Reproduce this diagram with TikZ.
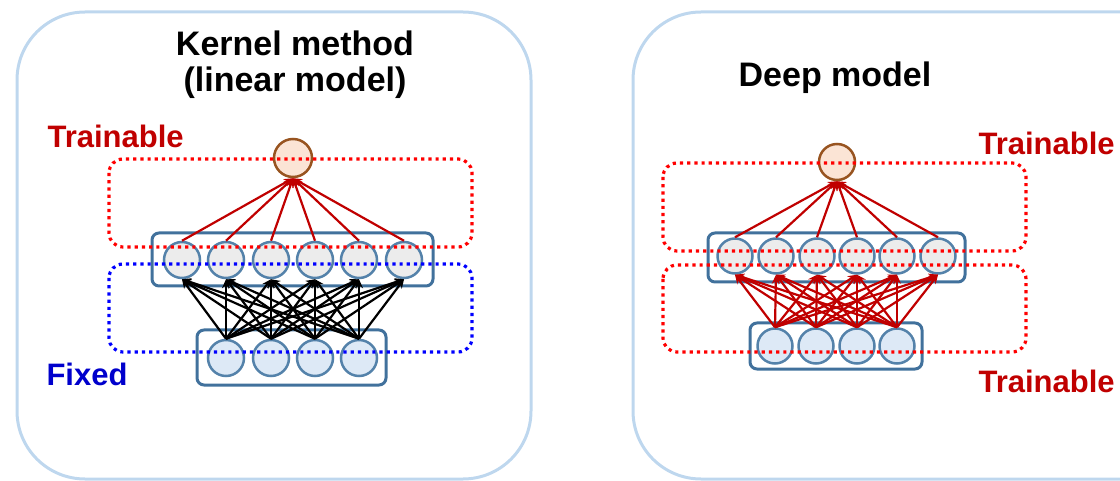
\documentclass[tikz,border=0pt]{standalone}
\usepackage{fontspec}
\setmainfont{Liberation Sans}
\usetikzlibrary{arrows.meta}
\definecolor{panelblue}{RGB}{190,215,238}
\definecolor{boxblue}{RGB}{65,113,156}
\definecolor{ringblue}{RGB}{84,130,170}
\definecolor{hidfill}{RGB}{236,236,236}
\definecolor{infill}{RGB}{221,233,246}
\definecolor{outfill}{RGB}{251,228,213}
\definecolor{outring}{RGB}{152,84,32}
\definecolor{wred}{RGB}{192,0,0}
\definecolor{dred}{RGB}{255,0,0}
\definecolor{dblue}{RGB}{0,0,255}
\definecolor{lblue}{RGB}{0,0,204}
\tikzset{
  panel/.style={draw=panelblue, line width=3pt, rounded corners=68pt},
  layerbox/.style={draw=boxblue, line width=3pt, rounded corners=7pt},
  hid/.style={circle, draw=ringblue, line width=2.5pt, fill=hidfill, minimum size=36pt, inner sep=0pt},
  inp/.style={circle, draw=ringblue, line width=2.5pt, fill=infill, minimum size=36pt, inner sep=0pt},
  outn/.style={circle, draw=outring, line width=2.5pt, fill=outfill, minimum size=38pt, inner sep=0pt},
  wire/.style={line width=2.2pt, -{Stealth[length=9pt,width=8pt]}},
  redwire/.style={wire, draw=wred},
  blackwire/.style={wire, draw=black},
  regionred/.style={draw=dred, line width=3.2pt, dash pattern=on 3.2pt off 4pt, rounded corners=14pt},
  regionblue/.style={draw=dblue, line width=3.2pt, dash pattern=on 3.2pt off 4pt, rounded corners=14pt},
  title/.style={font=\fontsize{34}{40}\selectfont\bfseries, anchor=base},
  tag/.style={font=\fontsize{31}{36}\selectfont\bfseries, anchor=base west}
}
\begin{document}
\begin{tikzpicture}[x=1pt,y=-1pt]
\useasboundingbox (0,0) rectangle (1120,481);
\clip (0,0) rectangle (1120,481);

% the two panels
\draw[panel] (17,12) rectangle (531,479);
\draw[panel] (633,12) rectangle (1190,479);

% ---------- kernel method ----------
\draw[layerbox] (152,233) rectangle (433,286);
\draw[layerbox] (197,330) rectangle (386,385);
\node[outn] (ko) at (293,158) {};
\foreach \x [count=\i] in {182,226,271,315,359,404}
  \node[hid] (kh\i) at (\x,260) {};
\foreach \x [count=\i] in {226,271,315,359}
  \node[inp] (ki\i) at (\x,358) {};
\foreach \i in {1,...,4}
  \foreach \j in {1,...,6}
    \draw[blackwire] (ki\i.north) -- (kh\j.south);
\foreach \j in {1,...,6}
  \draw[redwire] (kh\j.north) -- (ko.south);
\draw[regionred] (109,159) rectangle (472,247);
\draw[regionblue] (109,264) rectangle (472,352);

\node[title] (kt1) at (295,56) {Kernel method};
\node[title] (kt2) at (295,92) {(linear model)};
\node[tag, text=wred] (ktr) at (44,148) {Trainable};
\node[tag, text=lblue] (kfx) at (43,385) {Fixed};

% ---------- deep model ----------
\draw[layerbox] (708,233) rectangle (965,282);
\draw[layerbox] (750,323) rectangle (922,369);
\node[outn, minimum size=36pt] (do) at (837,162) {};
\foreach \x [count=\i] in {735,776,817,857,897,938}
  \node[hid, minimum size=35pt] (dh\i) at (\x,256) {};
\foreach \x [count=\i] in {775,816,857,897}
  \node[inp, minimum size=35pt] (di\i) at (\x,346) {};
\foreach \i in {1,...,4}
  \foreach \j in {1,...,6}
    \draw[redwire] (di\i.north) -- (dh\j.south);
\foreach \j in {1,...,6}
  \draw[redwire] (dh\j.north) -- (do.south);
\draw[regionred] (663,163) rectangle (1026,251);
\draw[regionred] (663,265) rectangle (1026,352);

\node[title] (dt) at (835,87) {Deep model};
\node[tag, text=wred] (dtr1) at (975,155) {Trainable};
\node[tag, text=wred] (dtr2) at (975,392) {Trainable};
\end{tikzpicture}
\end{document}
